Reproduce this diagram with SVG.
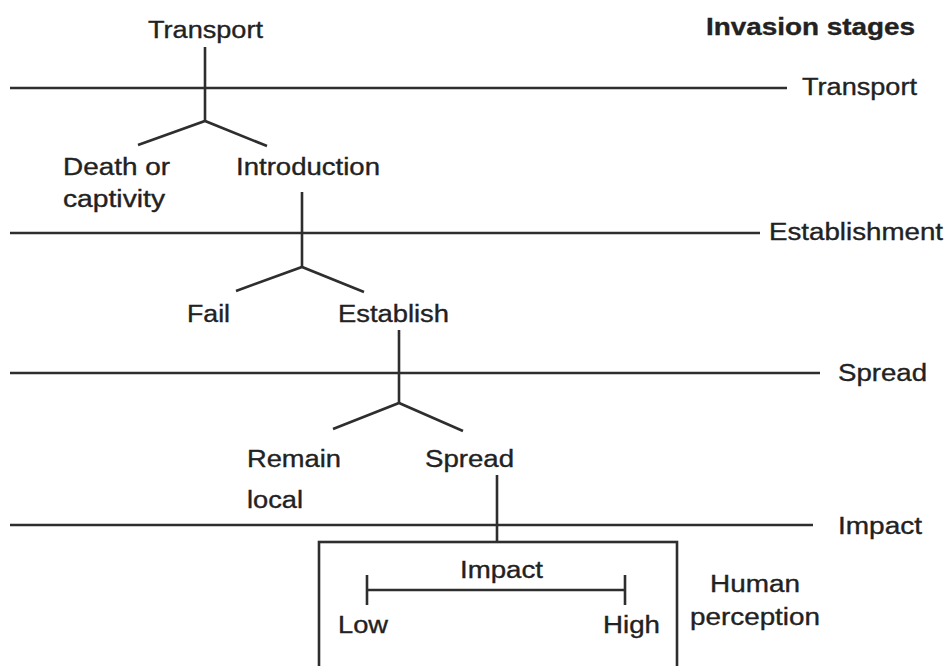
<svg xmlns="http://www.w3.org/2000/svg" width="948" height="666" viewBox="0 0 948 666">
<style>
text{font-family:"Liberation Sans",Arial,sans-serif;font-size:23.5px;fill:#222;stroke:#222;stroke-width:0.35}
.b{font-weight:bold}
line,rect,polyline{stroke:#2e2e2e;stroke-width:2.6;fill:none}
</style>
<rect width="948" height="666" fill="#fff" style="stroke:none"/>
<g id="stage-lines">
<line x1="10" y1="88" x2="787" y2="88"/>
<line x1="10" y1="233" x2="760" y2="233"/>
<line x1="10" y1="373" x2="820" y2="373"/>
<line x1="10" y1="525" x2="813" y2="525"/>
</g>
<g id="connectors">
<line x1="205" y1="47" x2="205" y2="121"/>
<polyline points="138,145 205,121 267,146"/>
<line x1="302" y1="192" x2="302" y2="267"/>
<polyline points="236,291 302,267 364,292"/>
<line x1="399" y1="330" x2="399" y2="403"/>
<polyline points="333,429 399,403 463,431"/>
<line x1="497" y1="475" x2="497" y2="542"/>
</g>
<g id="stage-labels">
<text class="b" x="706" y="35" textLength="209" lengthAdjust="spacingAndGlyphs">Invasion stages</text>
<text x="802" y="95" textLength="115" lengthAdjust="spacingAndGlyphs">Transport</text>
<text x="769" y="240" textLength="174" lengthAdjust="spacingAndGlyphs">Establishment</text>
<text x="838" y="381" textLength="89" lengthAdjust="spacingAndGlyphs">Spread</text>
<text x="838" y="534" textLength="84" lengthAdjust="spacingAndGlyphs">Impact</text>
</g>
<g id="node-transport"><text x="148" y="38" textLength="115" lengthAdjust="spacingAndGlyphs">Transport</text></g>
<g id="node-death"><text x="63" y="175" textLength="107" lengthAdjust="spacingAndGlyphs">Death or</text><text x="63" y="207" textLength="102" lengthAdjust="spacingAndGlyphs">captivity</text></g>
<g id="node-introduction"><text x="236" y="175" textLength="144" lengthAdjust="spacingAndGlyphs">Introduction</text></g>
<g id="node-fail"><text x="187" y="322" textLength="43" lengthAdjust="spacingAndGlyphs">Fail</text></g>
<g id="node-establish"><text x="338" y="322" textLength="111" lengthAdjust="spacingAndGlyphs">Establish</text></g>
<g id="node-remain"><text x="247" y="467" textLength="94" lengthAdjust="spacingAndGlyphs">Remain</text><text x="247" y="508" textLength="56" lengthAdjust="spacingAndGlyphs">local</text></g>
<g id="node-spread"><text x="425" y="467" textLength="89" lengthAdjust="spacingAndGlyphs">Spread</text></g>
<g id="node-impact">
<rect x="319" y="542" width="358" height="140"/>
<line x1="367" y1="590" x2="625" y2="590"/>
<line x1="367" y1="575" x2="367" y2="605"/>
<line x1="625" y1="575" x2="625" y2="605"/>
<text x="460" y="578" textLength="83" lengthAdjust="spacingAndGlyphs">Impact</text>
<text x="338" y="633" textLength="50" lengthAdjust="spacingAndGlyphs">Low</text>
<text x="603" y="633" textLength="57" lengthAdjust="spacingAndGlyphs">High</text>
</g>
<g id="node-human"><text x="710" y="592" textLength="90" lengthAdjust="spacingAndGlyphs">Human</text><text x="690" y="625" textLength="130" lengthAdjust="spacingAndGlyphs">perception</text></g>
</svg>
